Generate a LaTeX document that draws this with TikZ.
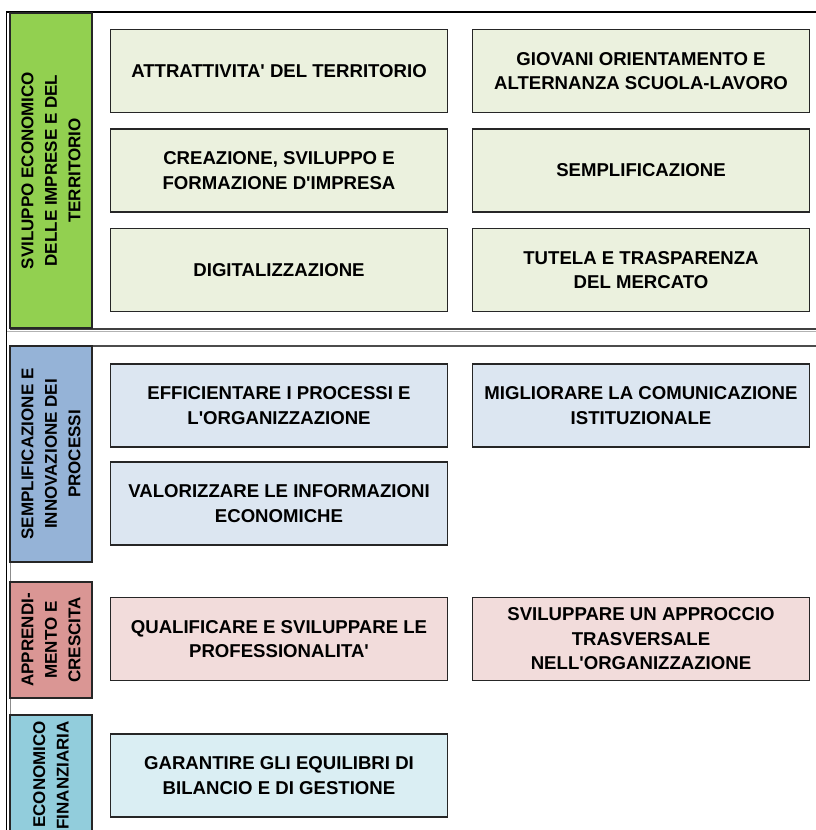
\documentclass[tikz,border=0pt]{standalone}
\usepackage{fontspec}
\setmainfont{Liberation Sans}
\usepackage{tikz}
\usetikzlibrary{positioning}

\definecolor{verdeA}{HTML}{92D050}
\definecolor{verdeB}{HTML}{EBF1DE}
\definecolor{bluA}{HTML}{95B3D7}
\definecolor{bluB}{HTML}{DCE6F1}
\definecolor{rosaA}{HTML}{DA9694}
\definecolor{rosaB}{HTML}{F2DCDB}
\definecolor{azzA}{HTML}{92CDDC}
\definecolor{azzB}{HTML}{DAEEF3}
\newcommand{\apo}{\textquotesingle}

\begin{document}
\begin{tikzpicture}[x=1pt,y=-1pt,
    obiettivo/.style={draw=black!85, line width=1.3pt, minimum width=337pt, minimum height=83pt,
                      inner sep=2pt, align=center, font=\fontsize{18.6}{24.5}\selectfont\bfseries},
    area/.style={draw=black!85, line width=1.3pt, rotate=90, minimum height=82pt,
                 inner sep=2pt, align=center, font=\fontsize{17}{23.5}\selectfont\bfseries}]
\useasboundingbox (0,0) rectangle (816,830);
\clip (0,0) rectangle (816,830);
% cornice
\draw[black!30, line width=0.8pt] (7,331) -- (816,331);
\draw[black!75, line width=2pt] (10,328.5) -- (816,328.5);
\draw[black!70, line width=1.5pt] (10,346) -- (816,346);
\draw[black!45, line width=0.8pt] (10,346) -- (10,830);
\draw[black, line width=2pt] (6,12) -- (816,12);
\draw[black, line width=1.6pt] (6.5,11) -- (6.5,830);

% aree strategiche
\node[area, fill=verdeA, minimum width=315pt] (sviluppo) at (51,170.5)
  {SVILUPPO ECONOMICO\\DELLE IMPRESE E DEL\\TERRITORIO};
\node[area, fill=bluA, minimum width=216pt] (semplificazione) at (51,454)
  {SEMPLIFICAZIONE E\\INNOVAZIONE DEI\\PROCESSI};
\node[area, fill=rosaA, minimum width=116pt] (apprendimento) at (51,640)
  {APPRENDI-\\MENTO E\\CRESCITA};
\node[area, fill=azzA, minimum width=230pt, text width=218pt, align=right] (economico) at (51,830)
  {ECONOMICO\\FINANZIARIA};

% obiettivi
\node[obiettivo, fill=verdeB] (attrattivita) at (279,71) {ATTRATTIVITA\apo{} DEL TERRITORIO};
\node[obiettivo, fill=verdeB] (giovani) at (641,71) {GIOVANI ORIENTAMENTO E\\ALTERNANZA SCUOLA-LAVORO};
\node[obiettivo, fill=verdeB] (creazione) at (279,170.5) {CREAZIONE, SVILUPPO E\\FORMAZIONE D\apo IMPRESA};
\node[obiettivo, fill=verdeB] (semplif) at (641,170.5) {SEMPLIFICAZIONE};
\node[obiettivo, fill=verdeB] (digitale) at (279,270) {DIGITALIZZAZIONE};
\node[obiettivo, fill=verdeB] (tutela) at (641,270) {TUTELA E TRASPARENZA\\DEL MERCATO};

\node[obiettivo, fill=bluB] (efficientare) at (279,405.5) {EFFICIENTARE I PROCESSI E\\L\apo ORGANIZZAZIONE};
\node[obiettivo, fill=bluB] (comunicazione) at (641,405.5) {MIGLIORARE LA COMUNICAZIONE\\ISTITUZIONALE};
\node[obiettivo, fill=bluB] (informazioni) at (279,503.5) {VALORIZZARE LE INFORMAZIONI\\ECONOMICHE};

\node[obiettivo, fill=rosaB] (qualificare) at (279,639) {QUALIFICARE E SVILUPPARE LE\\PROFESSIONALITA\apo};
\node[obiettivo, fill=rosaB] (approccio) at (641,639) {SVILUPPARE UN APPROCCIO\\TRASVERSALE\\NELL\apo ORGANIZZAZIONE};

\node[obiettivo, fill=azzB] (equilibri) at (279,775.5) {GARANTIRE GLI EQUILIBRI DI\\BILANCIO E DI GESTIONE};
\end{tikzpicture}
\end{document}
